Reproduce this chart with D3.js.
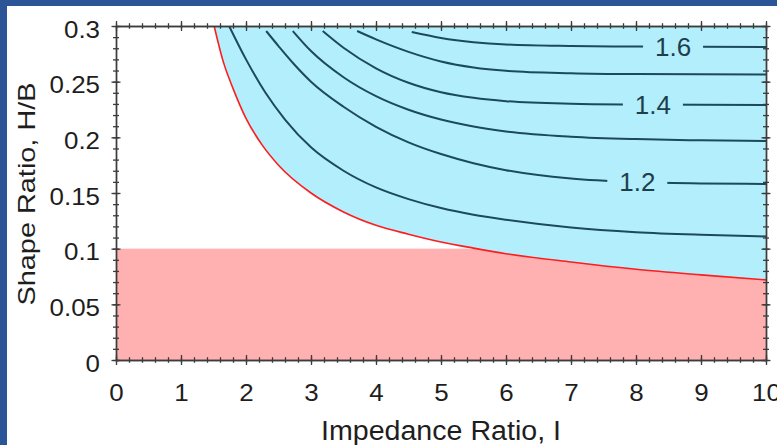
<!DOCTYPE html>
<html><head><meta charset="utf-8">
<script src="https://cdn.jsdelivr.net/npm/d3@7"></script>
<style>
html,body{margin:0;padding:0;background:#fff;}
svg{display:block;}
text{font-family:"Liberation Sans",Arial,Helvetica,sans-serif;fill:#1e1e1e;}
</style></head><body>
<svg id="chart" width="777" height="445"></svg>
<script>
// Axis ticks
const xTicks = [0,1,2,3,4,5,6,7,8,9,10];
const xTickLabels = ["0","1","2","3","4","5","6","7","8","9","10"];
const yTicks = [0,0.05,0.1,0.15,0.2,0.25,0.3];
const yTickLabels = ["0","0.05","0.1","0.15","0.2","0.25","0.3"];

// Lower limit of the shape ratio (shaded band)
const shapeLimit = 0.1;

// Boundary curve (red): impedance ratio and shape ratio
const boundaryI = [1.51, 1.65, 1.8, 2.0, 2.25, 2.5, 3.0, 3.5, 4.0, 4.5, 5.0, 5.5, 6.0, 7.0, 8.0, 9.0, 10.0];
const boundaryH = [0.300, 0.268, 0.244, 0.217, 0.193, 0.175, 0.150, 0.133, 0.121, 0.113, 0.106, 0.1005, 0.0955, 0.088, 0.0815, 0.0765, 0.072];

// Contour levels and their traced points
const contourLevels = [1.1, 1.2, 1.3, 1.4, 1.5, 1.6];
const contourI = [
  [1.74, 2.0, 2.3, 2.6, 3.0, 3.5, 4.0, 4.5, 5.0, 5.5, 6.0, 7.0, 8.0, 9.0, 10.0],
  [2.31, 2.5, 2.75, 3.0, 3.5, 4.0, 4.5, 5.0, 5.5, 6.0, 7.0, 8.0, 9.0, 10.0],
  [2.72, 3.0, 3.5, 4.0, 4.5, 5.0, 5.5, 6.0, 7.0, 8.0, 9.0, 10.0],
  [3.18, 3.5, 4.0, 4.5, 5.0, 5.5, 6.0, 7.0, 8.0, 10.0],
  [3.71, 4.0, 4.5, 5.0, 5.5, 6.0, 7.0, 8.0, 10.0],
  [4.55, 5.0, 5.5, 6.0, 7.0, 8.0, 10.0]
];
const contourH = [
  [0.300, 0.270, 0.240, 0.216, 0.191, 0.170, 0.155, 0.1445, 0.1365, 0.1305, 0.126, 0.119, 0.1148, 0.1125, 0.111],
  [0.2955, 0.282, 0.265, 0.250, 0.2275, 0.2095, 0.1955, 0.185, 0.1768, 0.1705, 0.163, 0.1598, 0.1586, 0.1581],
  [0.2955, 0.2775, 0.254, 0.237, 0.2248, 0.216, 0.2097, 0.2053, 0.2006, 0.1984, 0.1973, 0.1967],
  [0.2955, 0.2805, 0.262, 0.249, 0.2405, 0.2355, 0.2325, 0.2302, 0.2295, 0.229],
  [0.2955, 0.288, 0.2768, 0.2682, 0.2628, 0.2598, 0.2576, 0.2568, 0.2564],
  [0.2946, 0.2893, 0.2855, 0.2834, 0.282, 0.2815, 0.2811]
];
// Inline labels on selected contours
const labelLevels = [1.2, 1.4, 1.6];
const labelTexts = ["1.2", "1.4", "1.6"];
const labelI = [8.02, 8.26, 8.57];

const xTitle = "Impedance Ratio, I";
const yTitle = "Shape Ratio, H/B";

const W = 777, H = 445;
const m = {left:116, right:766, top:26, bottom:360};
const svg = d3.select("#chart");

const COL = {
  frame:"#2c5597", pink:"#ffb0b1", blue:"#b3eefc", red:"#ff1c1c",
  contour:"#1b4a5a", axis:"#3c3c3c"
};

// Page frame stripes
svg.append("rect").attr("x",0).attr("y",0).attr("width",W).attr("height",6).attr("fill",COL.frame);
svg.append("rect").attr("x",0).attr("y",0).attr("width",7).attr("height",H).attr("fill",COL.frame);

const x = d3.scaleLinear().domain([0,10]).range([m.left, m.right]);
const y = d3.scaleLinear().domain([0,0.3]).range([m.bottom, m.top]);

svg.append("clipPath").attr("id","plotClip").append("rect")
  .attr("x",m.left).attr("y",m.top).attr("width",m.right-m.left).attr("height",m.bottom-m.top);
const plot = svg.append("g").attr("clip-path","url(#plotClip)");

// Band below the shape-ratio limit
plot.append("rect")
  .attr("x", x(0)).attr("y", y(shapeLimit))
  .attr("width", x(10)-x(0)).attr("height", y(0)-y(shapeLimit))
  .attr("fill", COL.pink);

// Region above the boundary
const boundary = boundaryI.map((v,i)=>({i:v, h:boundaryH[i]}));
const area = d3.area().x(d=>x(d.i)).y0(y(0.3)).y1(d=>y(d.h)).curve(d3.curveMonotoneX);
plot.append("path").datum(boundary).attr("d", area).attr("fill", COL.blue);

// Contours
const line = d3.line().x(d=>x(d.i)).y(d=>y(d.h)).curve(d3.curveMonotoneX);
contourLevels.forEach((lvl,k)=>{
  const pts = contourI[k].map((v,i)=>({i:v, h:contourH[k][i]}));
  plot.append("path").datum(pts).attr("d", line)
    .attr("fill","none").attr("stroke",COL.contour).attr("stroke-width",2);
});

// Boundary line
plot.append("path").datum(boundary).attr("d", line)
  .attr("fill","none").attr("stroke",COL.red).attr("stroke-width",1.6);

// Contour labels with a gap in the line
function interpH(k, xi){
  const I = contourI[k], Hh = contourH[k];
  for(let j=0;j<I.length-1;j++){
    if(xi>=I[j] && xi<=I[j+1]){
      const t=(xi-I[j])/(I[j+1]-I[j]);
      return Hh[j]+t*(Hh[j+1]-Hh[j]);
    }
  }
  return Hh[Hh.length-1];
}
labelLevels.forEach((lvl,n)=>{
  const k = contourLevels.indexOf(lvl);
  const cx = x(labelI[n]), cy = y(interpH(k, labelI[n]));
  plot.append("rect").attr("x",cx-30).attr("y",cy-6).attr("width",60).attr("height",12).attr("fill",COL.blue);
  plot.append("text").attr("x",cx).attr("y",cy).attr("dy","0.36em")
    .attr("text-anchor","middle").style("font-size","26px").style("fill","#1d3f4c").text(labelTexts[n]);
});

// Axes with crossing major and minor ticks
function styleAxis(g, len, vertical){
  g.select(".domain").attr("stroke",COL.axis).attr("stroke-width",1.4);
  g.selectAll(".tick line").attr("stroke",COL.axis).attr("stroke-width",1.3);
  if(vertical) g.selectAll(".tick line").attr("y1",-len).attr("y2",len);
  else g.selectAll(".tick line").attr("x1",-len).attr("x2",len);
}
const xMinor = x.ticks(50), yMinor = y.ticks(30);

// minor ticks
[[d3.axisBottom(x), m.bottom],[d3.axisTop(x), m.top]].forEach(([ax,pos])=>{
  const g = svg.append("g").attr("transform",`translate(0,${pos})`)
    .call(ax.tickValues(xMinor).tickSize(3).tickSizeOuter(0).tickFormat(""));
  styleAxis(g, 2.8, true);
});
[[d3.axisLeft(y), m.left],[d3.axisRight(y), m.right]].forEach(([ax,pos])=>{
  const g = svg.append("g").attr("transform",`translate(${pos},0)`)
    .call(ax.tickValues(yMinor).tickSize(3).tickSizeOuter(0).tickFormat(""));
  styleAxis(g, 3, false);
});

// major ticks
const gx = svg.append("g").attr("transform",`translate(0,${m.bottom})`)
  .call(d3.axisBottom(x).tickValues(xTicks).tickSize(5).tickSizeOuter(0).tickPadding(19)
    .tickFormat((d,i)=>xTickLabels[i]));
styleAxis(gx, 5, true);
svg.append("g").attr("transform",`translate(0,${m.top})`)
  .call(d3.axisTop(x).tickValues(xTicks).tickSize(5).tickSizeOuter(0).tickFormat(""))
  .call(g=>styleAxis(g,5,true));
const gy = svg.append("g").attr("transform",`translate(${m.left},0)`)
  .call(d3.axisLeft(y).tickValues(yTicks).tickSize(5).tickSizeOuter(0).tickPadding(11)
    .tickFormat((d,i)=>yTickLabels[i]));
styleAxis(gy, 4.5, false);
svg.append("g").attr("transform",`translate(${m.right},0)`)
  .call(d3.axisRight(y).tickValues(yTicks).tickSize(5).tickSizeOuter(0).tickFormat(""))
  .call(g=>styleAxis(g,4.5,false));

[gx, gy].forEach(g=>{
  g.attr("font-family",null).attr("font-size",null);
  g.selectAll(".tick text").style("font-size","24px").style("fill","#1e1e1e");
});
gy.selectAll(".tick text").attr("dy","0.46em");
[gx, gy].forEach(g=>g.selectAll(".tick text").each(function(){
  const w = this.getComputedTextLength();
  d3.select(this).attr("textLength", w*1.08).attr("lengthAdjust","spacingAndGlyphs");
}));

// Axis titles
svg.append("text").attr("x",(m.left+m.right)/2).attr("y",440)
  .attr("text-anchor","middle").style("font-size","27px")
  .attr("textLength",240).attr("lengthAdjust","spacingAndGlyphs").text(xTitle);
svg.append("text").attr("transform",`translate(35,${(m.top+m.bottom)/2+1}) rotate(-90)`)
  .attr("text-anchor","middle").style("font-size","24px")
  .attr("textLength",223).attr("lengthAdjust","spacingAndGlyphs").text(yTitle);
</script>
</body></html>
